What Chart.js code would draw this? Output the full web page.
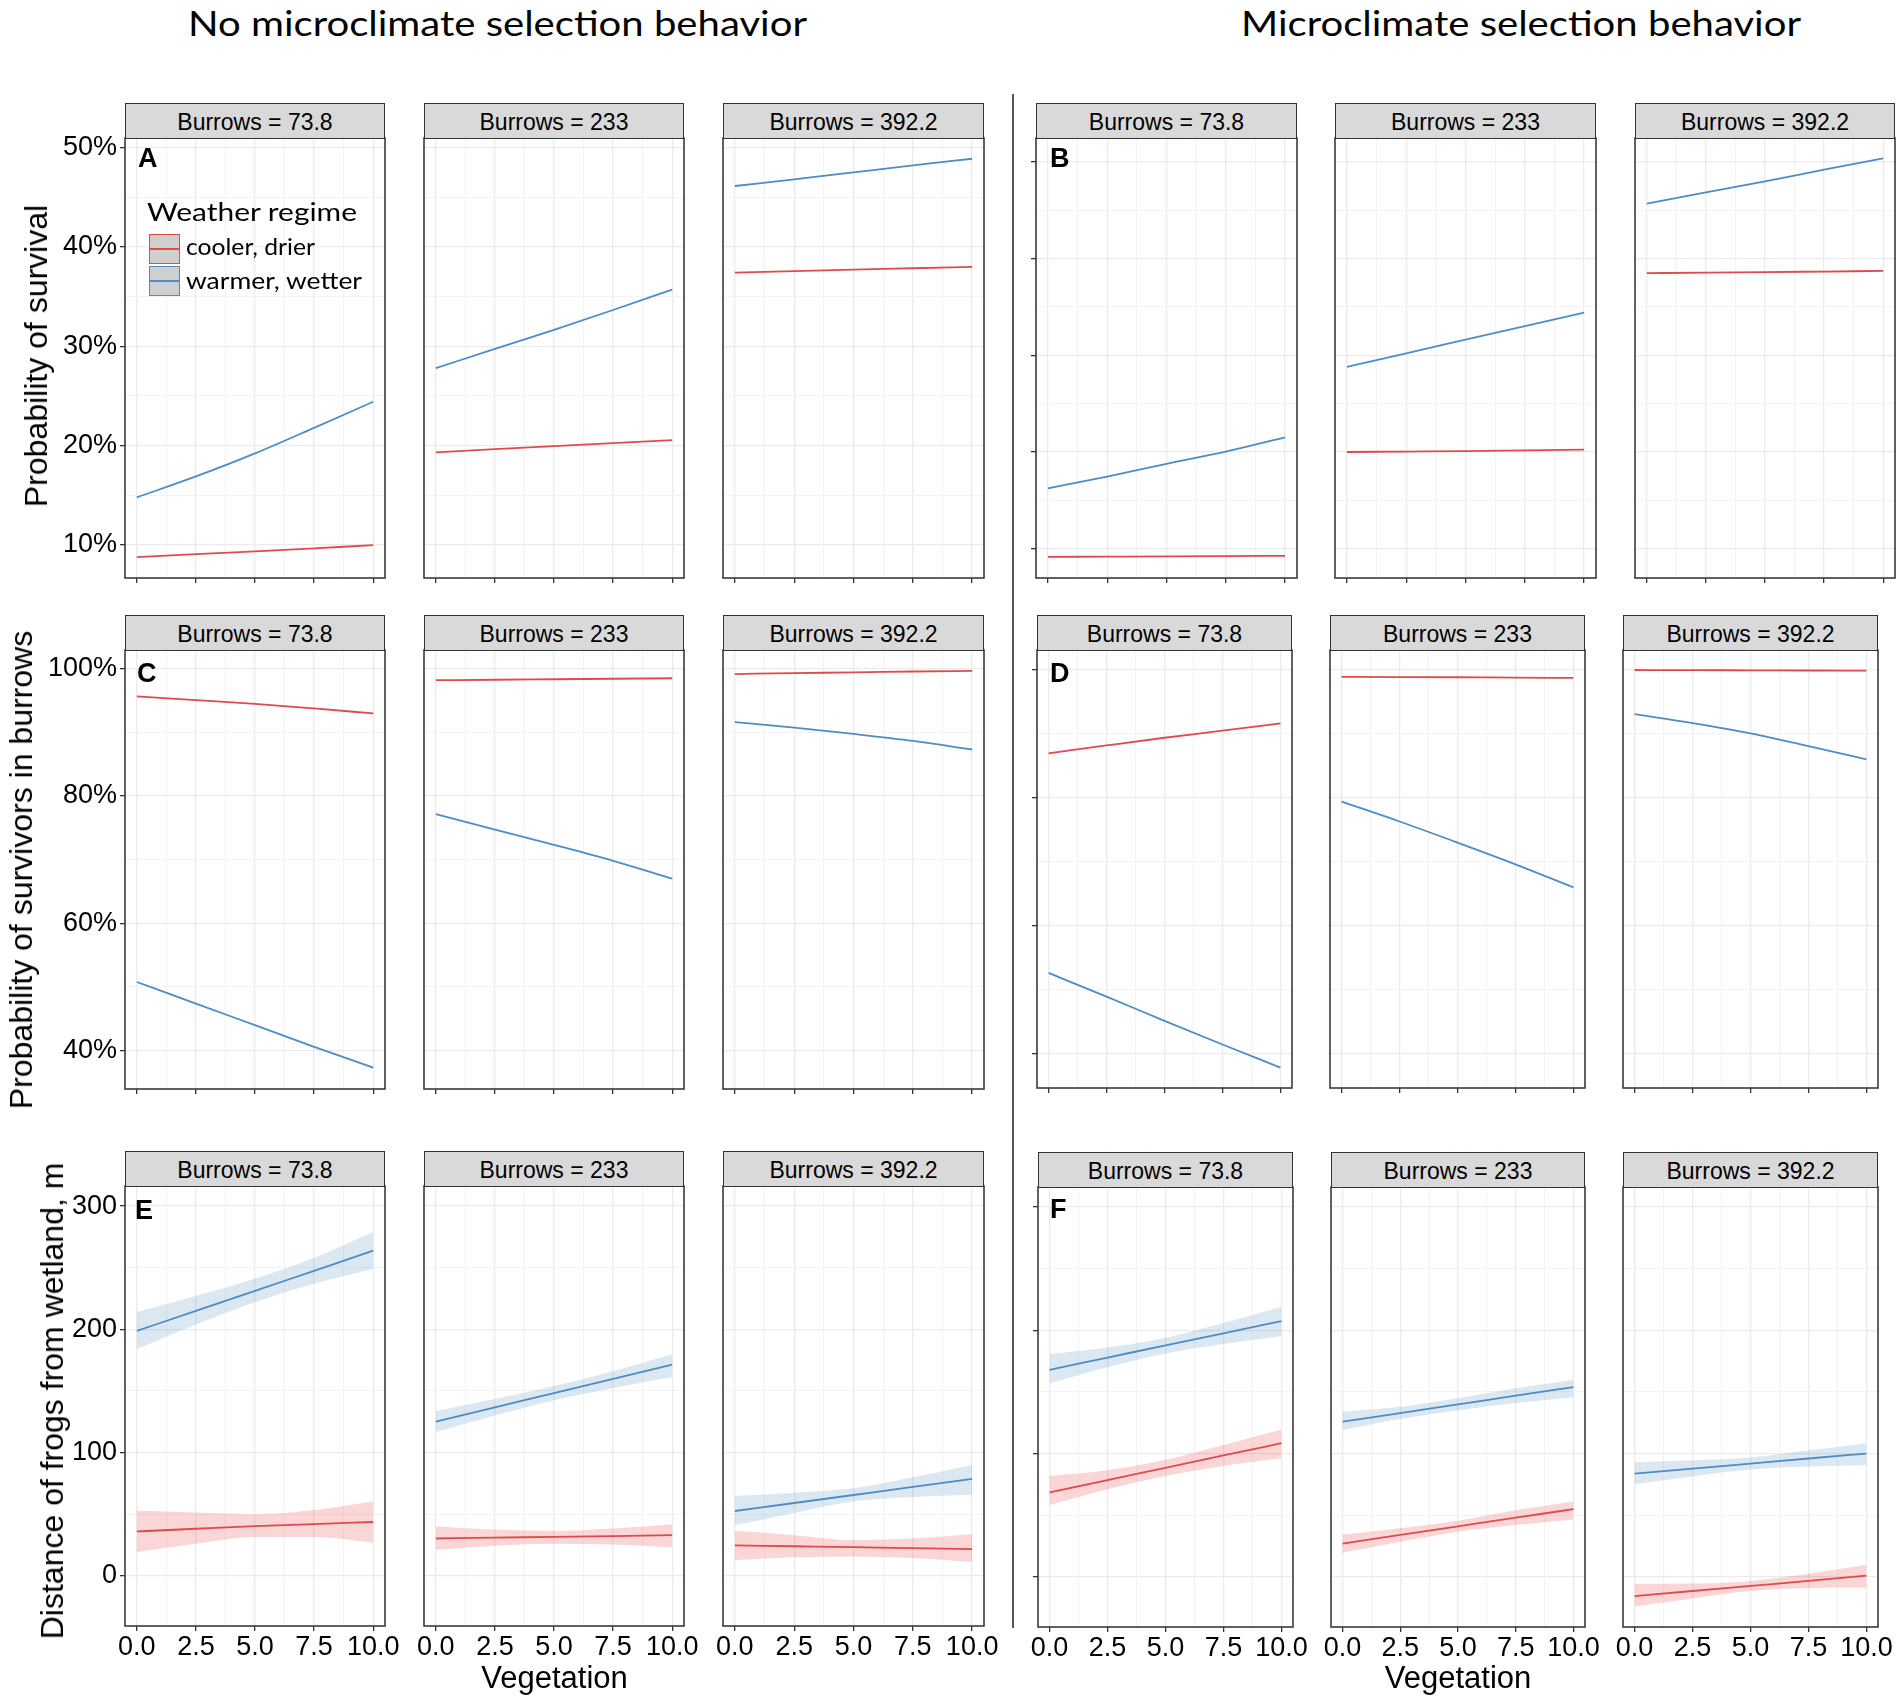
<!DOCTYPE html>
<html>
<head>
<meta charset="utf-8">
<script src="https://cdn.jsdelivr.net/npm/chart.js@4.4.1/dist/chart.umd.min.js"></script>
<style>
html,body{margin:0;padding:0;background:#fff;}
#fig{position:relative;width:1902px;height:1704px;overflow:hidden;background:#fff;}
.abs{position:absolute;white-space:nowrap;}
canvas{position:absolute;}
.strip{position:absolute;box-sizing:border-box;background:#D9D9D9;border:1.6px solid #333;}
.key{position:absolute;box-sizing:border-box;background:#CFCFCF;}
</style>
</head>
<body>
<div id="fig"></div>
<script>
// ---------------- data ----------------
const vegetation = [0, 2.5, 5, 7.5, 10];
const burrowLabels = ['Burrows = 73.8', 'Burrows = 233', 'Burrows = 392.2'];
const regimes = ['cooler, drier', 'warmer, wetter'];
const legendTitle = 'Weather regime';
const halfTitles = ['No microclimate selection behavior', 'Microclimate selection behavior'];
const rowTitles = ['Probability of survival', 'Probability of survivors in burrows', 'Distance of frogs from wetland, m'];
const xTitle = 'Vegetation';
const panelLetters = [['A', 'B'], ['C', 'D'], ['E', 'F']];

const xMajor = [0, 2.5, 5, 7.5, 10];
const xMinor = [1.25, 3.75, 6.25, 8.75];
const survMajor = [10, 20, 30, 40, 50];
const survMinor = [15, 25, 35, 45];
const burMajor = [40, 60, 80, 100];
const burMinor = [50, 70, 90];
const distMajor = [0, 100, 200, 300];
const distMinor = [50, 150, 250];

// Probability of survival (%), one row per burrow level
const survNoCool = [[8.78, 9.08, 9.36, 9.67, 9.98], [19.33, 19.64, 19.95, 20.25, 20.56], [37.41, 37.56, 37.71, 37.85, 38.0]];
const survNoWarm = [[14.79, 16.9, 19.22, 21.79, 24.42], [27.8, 29.73, 31.65, 33.65, 35.7], [46.13, 46.8, 47.5, 48.2, 48.87]];
const survMcCool = [[9.13, 9.15, 9.17, 9.2, 9.24], [19.98, 20.03, 20.08, 20.15, 20.22], [38.49, 38.55, 38.6, 38.66, 38.72]];
const survMcWarm = [[16.22, 17.44, 18.76, 20.02, 21.49], [28.78, 30.2, 31.6, 33.0, 34.4], [45.69, 46.85, 48.0, 49.2, 50.37]];

// Probability of survivors in burrows (%)
const burNoCool = [[95.58, 95.0, 94.43, 93.7, 92.92], [98.13, 98.2, 98.28, 98.36, 98.44], [99.1, 99.25, 99.35, 99.5, 99.6]];
const burNoWarm = [[50.78, 47.4, 44.0, 40.6, 37.35], [77.1, 74.7, 72.3, 69.8, 67.0], [91.54, 90.7, 89.7, 88.6, 87.26]];
const burMcCool = [[86.96, 88.2, 89.4, 90.5, 91.65], [98.92, 98.9, 98.87, 98.8, 98.76], [100.0, 99.98, 99.95, 99.92, 99.9]];
const burMcWarm = [[52.6, 48.9, 45.1, 41.4, 37.8], [79.4, 76.3, 73.0, 69.6, 66.0], [93.1, 91.7, 90.1, 88.1, 86.0]];

// Distance of frogs from wetland (m): fitted line and ribbon
const distNoCool   = [[36.0, 38.2, 40.4, 42.0, 43.7], [30.3, 31.0, 31.6, 32.3, 33.0], [24.7, 24.0, 23.3, 22.5, 21.7]];
const distNoCoolLo = [[19.3, 26, 31.5, 31.5, 27], [21.1, 24.5, 26.1, 25.5, 23.1], [12.7, 15, 15.7, 14.5, 11.3]];
const distNoCoolHi = [[52.8, 51.4, 50, 53.4, 60.3], [40.1, 37.5, 36.5, 38.5, 41.9], [36.5, 33, 29, 30.5, 33.8]];
const distNoWarm   = [[198.7, 215.0, 231.2, 247.5, 263.8], [125.1, 136.7, 148.3, 159.9, 171.4], [52.6, 59.1, 65.6, 72.1, 78.7]];
const distNoWarmLo = [[184, 204, 222, 237, 249], [116.7, 130, 142.5, 152.5, 161.3], [41.0, 51, 60.5, 64, 65.7]];
const distNoWarmHi = [[214, 227, 241, 258, 279], [133.7, 143.5, 154, 166, 179.7], [64.8, 67.5, 71, 80, 90.0]];
const distMcCool   = [[68.5, 78.5, 88.5, 98.5, 108.4], [27, 34, 41, 48, 54.9], [-15.7, -11.5, -7.4, -3.3, 0.9]];
const distMcCoolLo = [[58.2, 71, 81.9, 90, 96.2], [19.5, 28.5, 36.5, 42, 46.6], [-24.1, -17.5, -11.5, -9, -8.6]];
const distMcCoolHi = [[81.9, 86.5, 95, 107, 119.6], [34.4, 39.5, 45.5, 54, 61.2], [-5.7, -5.5, -3.3, 2.5, 9.8]];
const distMcWarm   = [[168, 177.9, 187.8, 197.6, 207.5], [125.9, 132.9, 139.9, 147, 154], [83.7, 87.8, 91.9, 96, 100]];
const distMcWarmLo = [[157, 170, 181.3, 189, 195.3], [119.1, 128, 135, 141, 145.7], [75.1, 81.5, 87, 89.5, 90.8]];
const distMcWarmHi = [[180.8, 186, 194, 206, 219.1], [133.9, 138, 144.9, 153, 160], [92.9, 94.5, 96.8, 102.5, 108.4]];

// y-axis limits (per row, per half)
const yLimits = [
  {L: [6.68, 50.96], R: [6.94, 52.48]},
  {L: [33.99, 102.87], R: [34.6, 103.13]},
  {L: [-40.7, 316.3], R: [-40.7, 316.3]}
];

// ---------------- layout / style ----------------
const COOL = '#E04A4D', WARM = '#4F8CC4';
const COOL_FILL = 'rgba(228,26,28,0.18)', WARM_FILL = 'rgba(55,126,184,0.18)';
const SANS = "'Liberation Sans', Arial, sans-serif";
const LATO = "Lato, 'Open Sans', sans-serif";
const BO = {sans: 0.8465, lato: 0.887};

const colsL = [[125, 385], [424, 684], [723, 984]];
const colsR = [
  [[1036, 1297], [1335, 1596], [1635, 1895]],
  [[1037, 1292], [1330, 1585], [1623, 1878]],
  [[1038, 1293], [1331, 1585], [1623, 1878]]
];
const rowsY = [
  {L: [138, 578], R: [138, 578]},
  {L: [650, 1089], R: [650, 1088]},
  {L: [1186, 1626], R: [1187, 1627]}
];

const fig = document.getElementById('fig');

function addText(txt, o) {
  const d = document.createElement('div');
  d.className = 'abs';
  d.textContent = txt;
  d.style.fontFamily = o.family;
  d.style.fontSize = o.size + 'px';
  d.style.lineHeight = o.size + 'px';
  d.style.fontWeight = o.weight || 'normal';
  d.style.color = o.color || '#000';
  d.style.top = (o.baseline - o.bo * o.size) + 'px';
  fig.appendChild(d);
  const w = d.getBoundingClientRect().width;
  let sx = 1;
  if (o.fitWidth) sx = o.fitWidth / w;
  if (o.center !== undefined) d.style.left = (o.center - w * sx / 2) + 'px';
  else d.style.left = o.left + 'px';
  if (sx !== 1) { d.style.transformOrigin = 'left top'; d.style.transform = 'scaleX(' + sx + ')'; }
  return d;
}

function addRotated(txt, cx, cy, size) {
  const d = document.createElement('div');
  d.className = 'abs';
  d.textContent = txt;
  d.style.fontFamily = SANS;
  d.style.fontSize = size + 'px';
  d.style.lineHeight = size + 'px';
  d.style.color = '#000';
  d.style.left = cx + 'px';
  d.style.top = cy + 'px';
  d.style.transform = 'translate(-50%,-50%) rotate(-90deg)';
  fig.appendChild(d);
}

function addBox(cls, l, t, w, h, extra) {
  const d = document.createElement('div');
  d.className = cls;
  d.style.left = l + 'px'; d.style.top = t + 'px';
  d.style.width = w + 'px'; d.style.height = h + 'px';
  if (extra) Object.assign(d.style, extra);
  fig.appendChild(d);
  return d;
}

const boxPlugin = {
  id: 'panelBox',
  afterDraw(chart) {
    const a = chart.chartArea, ctx = chart.ctx;
    ctx.save();
    ctx.strokeStyle = '#3a3a3a';
    ctx.lineWidth = 1.6;
    ctx.strokeRect(a.left, a.top, a.right - a.left, a.bottom - a.top);
    ctx.restore();
  }
};

function pts(vals) { return vegetation.map((x, i) => ({x: x, y: vals[i]})); }
function lineDs(vals, color) {
  return {data: pts(vals), borderColor: color, borderWidth: 1.8, pointRadius: 0, fill: false, cubicInterpolationMode: 'monotone'};
}
function bandDs(lo, hi, color) {
  return [
    {data: pts(lo), borderWidth: 0, borderColor: 'rgba(0,0,0,0)', pointRadius: 0, fill: false, cubicInterpolationMode: 'monotone'},
    {data: pts(hi), borderWidth: 0, borderColor: 'rgba(0,0,0,0)', pointRadius: 0, fill: '-1', backgroundColor: color, cubicInterpolationMode: 'monotone'}
  ];
}

const PADL = 130, PADR = 40, PADT = 30, PADB = 60;

function makePanel(p) {
  const [x0, x1] = p.xs, [y0, y1] = p.ys;
  const cv = document.createElement('canvas');
  const W = (x1 - x0) + PADL + PADR, H = (y1 - y0) + PADT + PADB;
  cv.width = W; cv.height = H;
  cv.style.width = W + 'px'; cv.style.height = H + 'px';
  cv.style.left = (x0 - PADL) + 'px'; cv.style.top = (y0 - PADT) + 'px';
  fig.appendChild(cv);
  const xAll = xMajor.concat(xMinor).sort((a, b) => a - b);
  const yAll = p.yMajor.concat(p.yMinor).sort((a, b) => a - b);
  const isXMaj = c => c.tick && xMajor.includes(c.tick.value);
  const isYMaj = c => c.tick && p.yMajor.includes(c.tick.value);
  new Chart(cv, {
    type: 'line',
    data: {datasets: p.datasets},
    options: {
      responsive: false, animation: false, devicePixelRatio: 1,
      layout: {padding: {left: 0, right: PADR, top: PADT, bottom: 0}},
      plugins: {legend: {display: false}, tooltip: {enabled: false}},
      scales: {
        x: {
          type: 'linear', min: -0.5, max: 10.5,
          afterBuildTicks: s => { s.ticks = xAll.map(v => ({value: v})); },
          afterFit: s => { s.height = PADB; },
          border: {display: false},
          grid: {
            color: c => isXMaj(c) ? '#EBEBEB' : '#F2F2F2',
            lineWidth: c => isXMaj(c) ? 1.3 : 0.9,
            tickColor: c => isXMaj(c) ? '#333' : 'rgba(0,0,0,0)',
            tickLength: 5, drawTicks: true
          },
          ticks: {
            display: p.showXLabels, autoSkip: false, maxRotation: 0, minRotation: 0, padding: 0,
            color: '#000', font: {family: SANS, size: 27},
            callback: v => xMajor.includes(v) ? v.toFixed(1) : ''
          }
        },
        y: {
          type: 'linear', min: p.ylim[0], max: p.ylim[1],
          afterBuildTicks: s => { s.ticks = yAll.map(v => ({value: v})); },
          afterFit: s => { s.width = PADL; },
          border: {display: false},
          grid: {
            color: c => isYMaj(c) ? '#EBEBEB' : '#F2F2F2',
            lineWidth: c => isYMaj(c) ? 1.3 : 0.9,
            tickColor: c => (p.showYTicks && isYMaj(c)) ? '#333' : 'rgba(0,0,0,0)',
            tickLength: 5, drawTicks: true
          },
          ticks: {
            display: p.showYLabels, autoSkip: false, padding: 3,
            color: '#000', font: {family: SANS, size: 27},
            callback: v => p.yMajor.includes(v) ? p.fmt(v) : ''
          }
        }
      }
    },
    plugins: [boxPlugin]
  });
  // strip
  addBox('strip', x0, y0 - 35, x1 - x0, 35.8);
  addText(p.strip, {family: SANS, size: 23, bo: BO.sans, baseline: y0 - 35 + 27.5, center: (x0 + x1) / 2});
}

// ---------------- build ----------------
const rowDefs = [
  {major: survMajor, minor: survMinor, fmt: v => v + '%',
   L: b => [lineDs(survNoCool[b], COOL), lineDs(survNoWarm[b], WARM)],
   R: b => [lineDs(survMcCool[b], COOL), lineDs(survMcWarm[b], WARM)]},
  {major: burMajor, minor: burMinor, fmt: v => v + '%',
   L: b => [lineDs(burNoCool[b], COOL), lineDs(burNoWarm[b], WARM)],
   R: b => [lineDs(burMcCool[b], COOL), lineDs(burMcWarm[b], WARM)]},
  {major: distMajor, minor: distMinor, fmt: v => String(v),
   L: b => [lineDs(distNoCool[b], COOL), lineDs(distNoWarm[b], WARM)]
            .concat(bandDs(distNoCoolLo[b], distNoCoolHi[b], COOL_FILL), bandDs(distNoWarmLo[b], distNoWarmHi[b], WARM_FILL)),
   R: b => [lineDs(distMcCool[b], COOL), lineDs(distMcWarm[b], WARM)]
            .concat(bandDs(distMcCoolLo[b], distMcCoolHi[b], COOL_FILL), bandDs(distMcWarmLo[b], distMcWarmHi[b], WARM_FILL))}
];

rowDefs.forEach((rd, r) => {
  ['L', 'R'].forEach(side => {
    for (let b = 0; b < 3; b++) {
      makePanel({
        xs: side === 'L' ? colsL[b] : colsR[r][b],
        ys: rowsY[r][side],
        ylim: yLimits[r][side],
        yMajor: rd.major, yMinor: rd.minor, fmt: rd.fmt,
        showYLabels: side === 'L' && b === 0,
        showYTicks: b === 0,
        showXLabels: r === 2,
        datasets: rd[side](b),
        strip: burrowLabels[b]
      });
    }
  });
});

// separator
addBox('abs', 1012, 94, 2, 1534, {background: '#555'});

// half titles
addText(halfTitles[0], {family: LATO, size: 35, bo: BO.lato, baseline: 36.4, left: 188, fitWidth: 619});
addText(halfTitles[1], {family: LATO, size: 35, bo: BO.lato, baseline: 36.4, left: 1241, fitWidth: 560});

// row titles
addRotated(rowTitles[0], 36, 356, 32);
addRotated(rowTitles[1], 20.5, 870, 32);
addRotated(rowTitles[2], 51.5, 1401, 32);

// x titles
addText(xTitle, {family: SANS, size: 31, bo: BO.sans, baseline: 1688, center: 554.5});
addText(xTitle, {family: SANS, size: 31, bo: BO.sans, baseline: 1688, center: 1458});

// panel letters
const letterPos = [[[138, 149], [1050, 149]], [[137, 664], [1050, 664]], [[135, 1201], [1050, 1200]]];
panelLetters.forEach((row, r) => row.forEach((L, s) => {
  const [lx, ct] = letterPos[r][s];
  addText(L, {family: SANS, size: 27, weight: 'bold', bo: BO.sans, baseline: ct + 0.716 * 27, left: lx});
}));

// legend in panel A
addText(legendTitle, {family: LATO, size: 25, bo: BO.lato, baseline: 220.7, left: 147, fitWidth: 210});
const keyColors = [COOL, WARM];
const keyTops = [234, 266];
regimes.forEach((lab, i) => {
  const k = addBox('key', 149, keyTops[i], 31, 30, {border: '1.6px solid ' + keyColors[i]});
  const ln = document.createElement('div');
  ln.style.position = 'absolute'; ln.style.left = '0px'; ln.style.right = '0px';
  ln.style.top = '13px'; ln.style.height = '2px'; ln.style.background = keyColors[i];
  k.appendChild(ln);
});
addText(regimes[0], {family: LATO, size: 24, bo: BO.lato, baseline: 255, left: 186, fitWidth: 129});
addText(regimes[1], {family: LATO, size: 24, bo: BO.lato, baseline: 289, left: 186, fitWidth: 176});
</script>
</body>
</html>
